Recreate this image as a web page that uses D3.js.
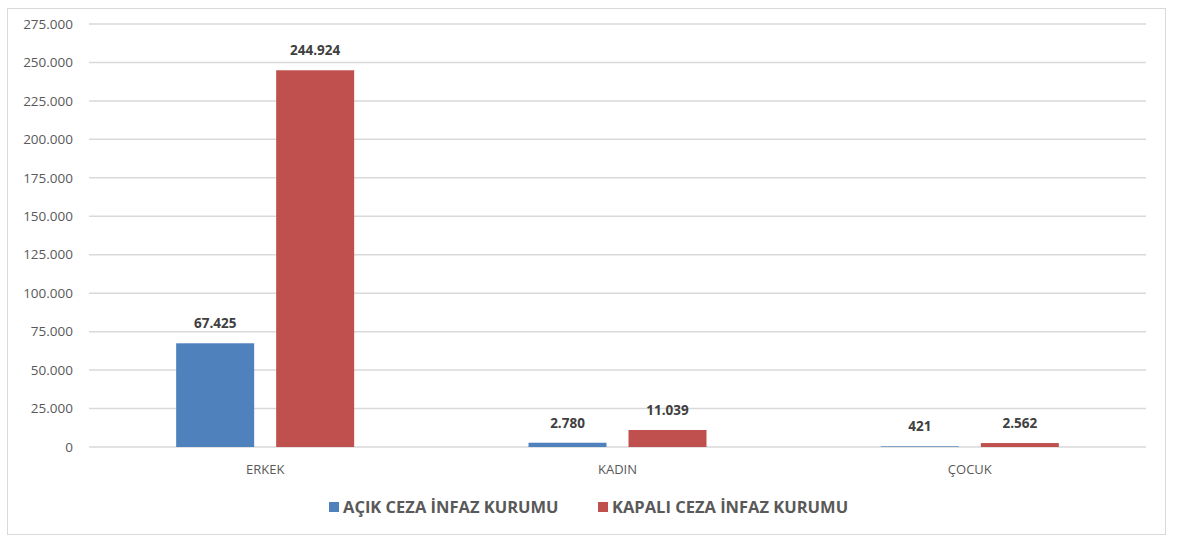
<!DOCTYPE html>
<meta charset="utf-8">
<head>
  <title>Ceza infaz kurumu</title>
  <script src="https://d3js.org/d3.v7.min.js"></script>
  <style>
    body { margin: 0; background: #fff; }
    text { font-family: "Open Sans", "Liberation Sans", sans-serif; }
    .grid line { stroke: #d9d9d9; stroke-width: 1.5px; }
    .yaxis text { fill: #595959; font-size: 13.5px; }
    .xaxis text { fill: #595959; font-size: 13px; }
    .val { fill: #404040; font-size: 13.5px; font-weight: bold; }
    .leg { fill: #595959; font-size: 16.5px; font-weight: bold; }
  </style>
</head>
<body>
  <svg width="1182" height="537"></svg>
  <script>
    const categories = ["ERKEK", "KADIN", "ÇOCUK"];
    const seriesNames = ["AÇIK CEZA İNFAZ KURUMU", "KAPALI CEZA İNFAZ KURUMU"];
    const acik = [67425, 2780, 421];
    const kapali = [244924, 11039, 2562];
    const yTicks = [0, 25000, 50000, 75000, 100000, 125000, 150000, 175000, 200000, 225000, 250000, 275000];
    const colors = ["#4f81bd", "#c0504d"];

    const svg = d3.select("svg");
    const plotLeft = 89, plotRight = 1146, plotTop = 24, plotBottom = 447;

    // frame
    svg.append("rect")
      .attr("x", 7.5).attr("y", 8.5)
      .attr("width", 1158).attr("height", 526)
      .attr("fill", "none").attr("stroke", "#d9d9d9");

    const y = d3.scaleLinear().domain([0, 275000]).range([plotBottom, plotTop]);
    const x = d3.scaleBand().domain(categories).range([plotLeft, plotRight]);
    const x1 = d3.scaleBand().domain(seriesNames).range([x.bandwidth() / 2 - 89, x.bandwidth() / 2 + 89]).paddingInner(0.22);

    const fmt = d3.formatLocale({ decimal: ",", thousands: ".", grouping: [3], currency: ["", ""] }).format(",d");

    svg.append("g").attr("class", "grid")
      .selectAll("line").data(yTicks).enter().append("line")
      .attr("x1", plotLeft).attr("x2", plotRight)
      .attr("y1", d => y(d)).attr("y2", d => y(d));

    svg.append("g").attr("class", "yaxis")
      .selectAll("text").data(yTicks).enter().append("text")
      .attr("x", 73).attr("y", d => y(d)).attr("dy", "0.35em")
      .attr("text-anchor", "end")
      .text(d => fmt(d));

    svg.append("g").attr("class", "xaxis")
      .selectAll("text").data(categories).enter().append("text")
      .attr("x", d => x(d) + x.bandwidth() / 2).attr("y", 474)
      .attr("text-anchor", "middle")
      .text(d => d);

    const rows = [];
    categories.forEach((c, i) => {
      rows.push({ cat: c, s: seriesNames[0], v: acik[i], col: colors[0] });
      rows.push({ cat: c, s: seriesNames[1], v: kapali[i], col: colors[1] });
    });

    svg.append("g").selectAll("rect").data(rows).enter().append("rect")
      .attr("x", d => x(d.cat) + x1(d.s))
      .attr("width", x1.bandwidth())
      .attr("y", d => y(d.v))
      .attr("height", d => plotBottom - y(d.v))
      .attr("fill", d => d.col);

    svg.append("g").selectAll("text").data(rows).enter().append("text")
      .attr("class", "val")
      .attr("x", d => x(d.cat) + x1(d.s) + x1.bandwidth() / 2)
      .attr("y", d => y(d.v) - 15)
      .attr("text-anchor", "middle")
      .text(d => fmt(d.v));

    // legend
    const legX = [329, 598];
    const leg = svg.append("g").selectAll("g").data(seriesNames).enter().append("g")
      .attr("transform", (d, i) => `translate(${legX[i]},507)`);
    leg.append("rect").attr("x", 0).attr("y", -5).attr("width", 10).attr("height", 10)
      .attr("fill", (d, i) => colors[i]);
    leg.append("text").attr("class", "leg").attr("x", 14).attr("dy", "0.35em").text(d => d);
  </script>
</body>
